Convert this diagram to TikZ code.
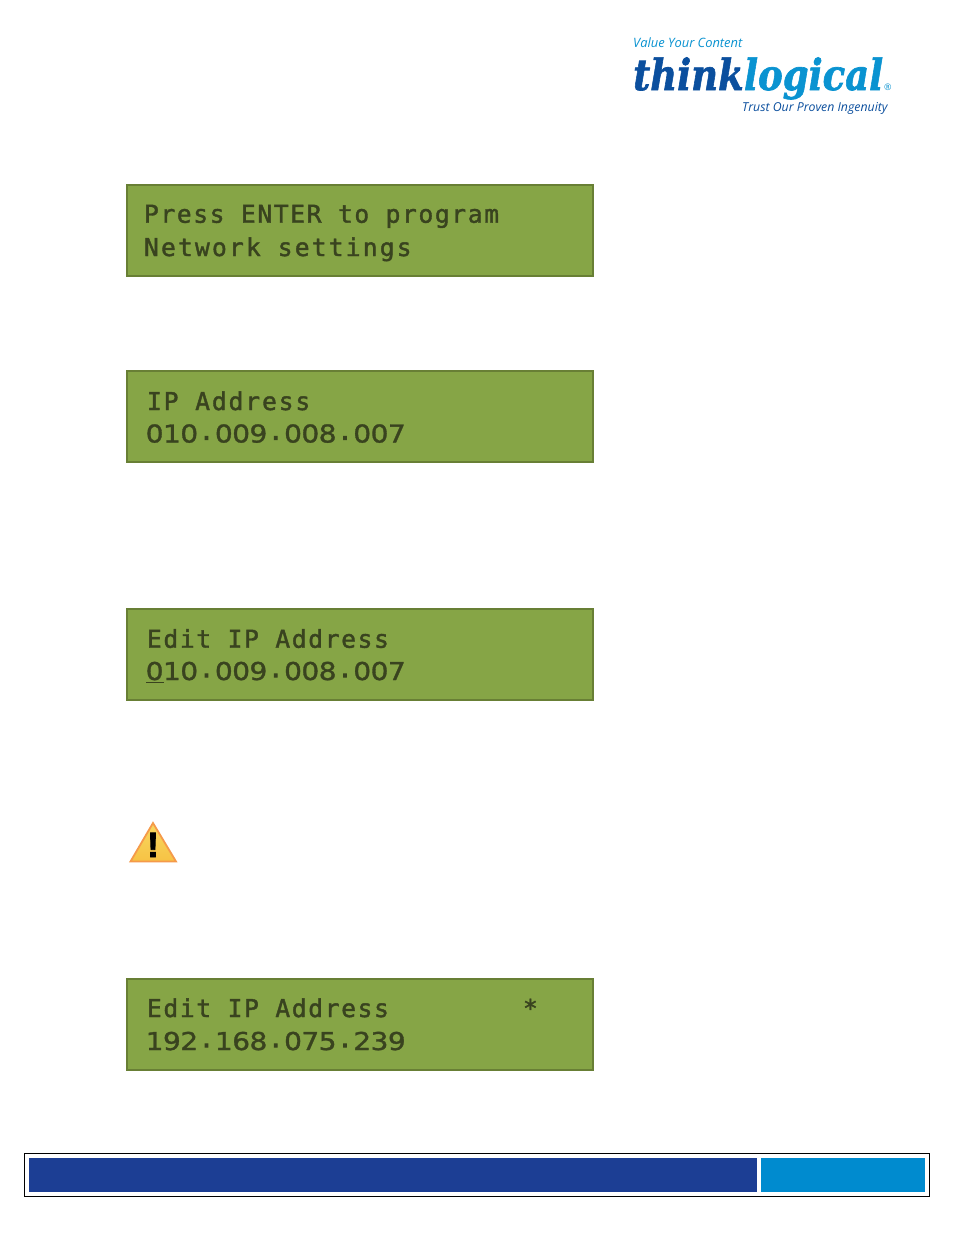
\documentclass[tikz,border=0pt]{standalone}
\usepackage{fontspec}
\usepackage{graphicx}
\setmainfont{Open Sans}
\newfontfamily\lcdfont[FakeBold=1.6]{DejaVu Sans Mono}
\newfontfamily\digitfont[FakeBold=1.2]{DejaVu Sans}
\newfontfamily\dotfont[FakeBold=5]{DejaVu Sans}
\newfontfamily\logofont[BoldItalicFont={DejaVu Serif Bold Italic},BoldItalicFeatures={FakeBold=1.5}]{DejaVu Serif}
\newfontfamily\tagfont{Open Sans}
\newfontfamily\warnfont[FakeBold=2.5]{Liberation Sans Bold}
\definecolor{lcdgreen}{HTML}{86A546}
\definecolor{lcdedge}{HTML}{687F35}
\definecolor{lcdtext}{HTML}{39431F}
\definecolor{tldark}{HTML}{0B4F9E}
\definecolor{tllight}{HTML}{0A93D1}
\definecolor{bardark}{HTML}{1C3E94}
\definecolor{barlight}{HTML}{008BCF}
\definecolor{warnedge}{HTML}{F59A4A}
\definecolor{warntop}{HTML}{F8D860}
\definecolor{warnlow}{HTML}{F7C244}
\newcommand{\cellnext}[1]{\ifx#1\relax\else\makebox[17.3pt][c]{\ifx#1.\raisebox{3pt}{\dotfont\fontsize{24.6}{28}\selectfont .}\else\scalebox{1.14}[1]{#1}\fi}\expandafter\cellnext\fi}
\newcommand{\cellrun}[1]{\digitfont\fontsize{24.6}{28}\selectfont\cellnext#1\relax}
\newcommand{\tracked}[2]{\addfontfeature{LetterSpace=#1}#2}
\tikzset{
  x=1pt,y=-1pt,
  lcdbox/.style={draw=lcdedge,fill=lcdgreen,line width=1.3pt,minimum width=466pt,minimum height=91pt,inner sep=0pt,outer sep=0pt,anchor=north west},
  lcdline/.style={anchor=base west,inner sep=0pt,outer sep=0pt,text=lcdtext,font=\lcdfont\fontsize{24.6}{28}\selectfont},
  logomain/.style={anchor=base west,inner sep=0pt,font=\logofont\bfseries\itshape\fontsize{43}{45}\selectfont},
  logotag/.style={anchor=base west,inner sep=0pt,font=\tagfont\itshape\fontsize{12.3}{14}\selectfont},
}
\begin{document}
\begin{tikzpicture}
\useasboundingbox (0,0) rectangle (954,1235);
\fill[white] (0,0) rectangle (954,1235);
% logo
\node[logotag,text=tllight,font=\tagfont\itshape\fontsize{12.9}{14}\selectfont] (tagtop) at (633,47.5) {Value Your Content};
\node[logomain,xscale=0.86,text=tldark] (lthink) at (633,90) {think};
\node[logomain,xscale=0.86,text=tllight] (llogical) at (lthink.base east) {logical};
\node[anchor=base west,inner sep=0pt,text=tllight,font=\tagfont\fontsize{9}{10}\selectfont] (lreg) at (884,90) {®};
\node[logotag,text=tldark] (tagbottom) at (742,111) {Trust Our Proven Ingenuity};
% box 1
\node[lcdbox] (box1) at (127,185) {};
\node[lcdline] (b1a) at (144,222.7) {\tracked{6.6}{Press ENTER to program}};
\node[lcdline] (b1b) at (144,256) {\tracked{8.9}{Network settings}};
% box 2
\node[lcdbox] (box2) at (127,371) {};
\node[lcdline] (b2a) at (147,410) {\tracked{7.7}{IP Address}};
\node[lcdline] (b2b) at (146,442.5) {\cellrun{010.009.008.007}};
% box 3
\node[lcdbox] (box3) at (127,609) {};
\node[lcdline] (b3a) at (147,647.7) {\tracked{6.7}{Edit IP Address}};
\node[lcdline] (b3b) at (146,680) {\cellrun{010.009.008.007}};
\coordinate (ula) at (146,682.5);
\coordinate (ulb) at (164,682.5);
\draw[lcdtext,line width=0.9pt] (ula) -- (ulb);
% warning
\coordinate (wa) at (153,823);
\coordinate (wb) at (176,861.5);
\coordinate (wc) at (130.5,861.5);
\shade[top color=warntop,bottom color=warnlow,draw=warnedge,line width=1.8pt,line join=miter] (wa) -- (wb) -- (wc) -- cycle;
\node[anchor=base,inner sep=0pt,text=black,font=\warnfont\fontsize{35}{35}\selectfont] (wmark) at (153,857) {!};
% box 4
\node[lcdbox] (box4) at (127,979) {};
\node[lcdline] (b4a) at (147,1017) {\tracked{6.7}{Edit IP Address}};
\node[lcdline] (b4b) at (146,1050) {\cellrun{192.168.075.239}};
\node[lcdline] (b4c) at (523,1017) {*};
% footer
\draw[black,line width=1.2pt] (24.6,1153.6) rectangle (929.4,1196.4);
\fill[bardark] (29,1158) rectangle (757,1192);
\fill[barlight] (761,1158) rectangle (925,1192);
\end{tikzpicture}
\end{document}
